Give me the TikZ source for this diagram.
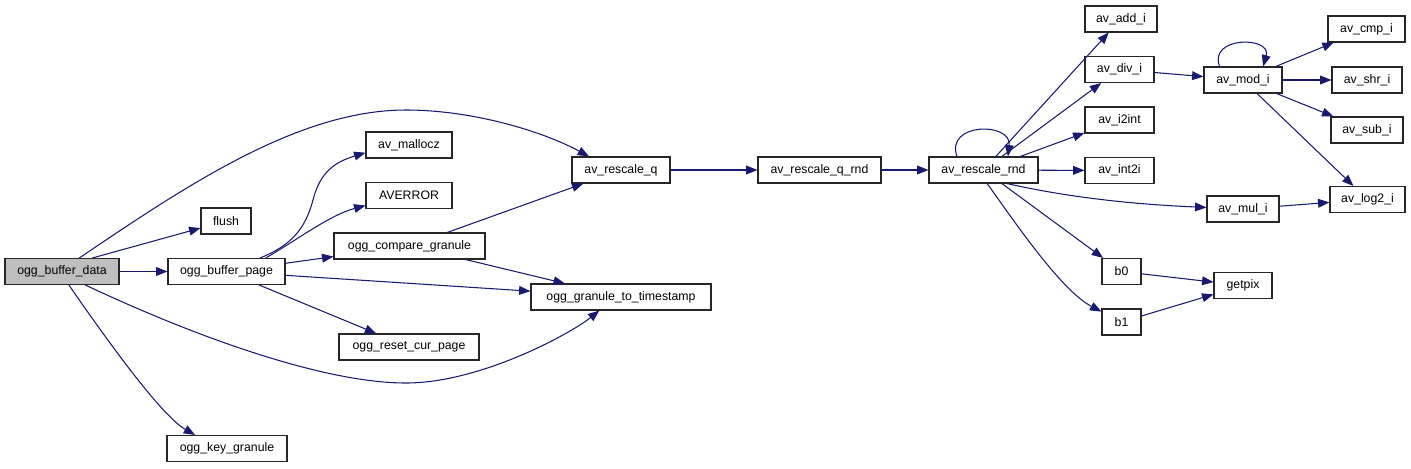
\documentclass[tikz,border=0pt]{standalone}
\usepackage{fontspec}
\setmainfont{Liberation Sans}
\usetikzlibrary{arrows.meta}
\definecolor{edgeblue}{HTML}{191970}
\definecolor{boxgray}{HTML}{BFBFBF}
\begin{document}
\begin{tikzpicture}[
    x=0.02cm, y=-0.02cm,
    box/.style={draw=black!85, line width=0.6pt, fill=white, minimum height=0.52cm, inner sep=0pt, font=\fontsize{7}{8}\selectfont},
    arr/.style={-{Triangle[length=6.5pt,width=5pt]}, draw=edgeblue, line width=0.6pt},
]
\useasboundingbox (0,0) rectangle (1411,468);

\node[box, fill=boxgray, minimum width=2.28cm] (odata) at (62,271.5) {ogg\_buffer\_data};
\node[box, minimum width=2.34cm] (opage) at (226.5,271.5) {ogg\_buffer\_page};
\node[box, minimum width=1.0cm] (flush) at (226,221) {flush};
\node[box, minimum width=2.4cm] (keygran) at (227,448.5) {ogg\_key\_granule};

\node[box, minimum width=1.72cm] (mallocz) at (409,145) {av\_mallocz};
\node[box, minimum width=1.72cm] (averror) at (409,195.5) {AVERROR};
\node[box, minimum width=3.02cm] (compare) at (409.5,246) {ogg\_compare\_granule};
\node[box, minimum width=2.8cm] (reset) at (409,347) {ogg\_reset\_cur\_page};

\node[box, minimum width=1.96cm] (rq) at (621,170) {av\_rescale\_q};
\node[box, minimum width=3.6cm] (g2ts) at (621,297) {ogg\_granule\_to\_timestamp};
\node[box, minimum width=2.46cm] (rqrnd) at (819.5,170) {av\_rescale\_q\_rnd};
\node[box, minimum width=2.18cm] (rrnd) at (983.5,170) {av\_rescale\_rnd};

\node[box, minimum width=1.44cm] (addi) at (1121,19) {av\_add\_i};
\node[box, minimum width=1.38cm] (divi) at (1119.5,69.5) {av\_div\_i};
\node[box, minimum width=1.38cm] (i2int) at (1119.5,120) {av\_i2int};
\node[box, minimum width=1.38cm] (int2i) at (1119.5,170.5) {av\_int2i};
\node[box, minimum width=0.78cm] (bzero) at (1121.5,271.5) {b0};
\node[box, minimum width=0.78cm] (bone) at (1121.5,322) {b1};

\node[box, minimum width=1.56cm] (modi) at (1243,80) {av\_mod\_i};
\node[box, minimum width=1.44cm] (muli) at (1243,209) {av\_mul\_i};
\node[box, minimum width=1.16cm] (getpix) at (1243,285.5) {getpix};

\node[box, minimum width=1.54cm] (cmpi) at (1366.5,29) {av\_cmp\_i};
\node[box, minimum width=1.4cm] (shri) at (1367,80) {av\_shr\_i};
\node[box, minimum width=1.44cm] (subi) at (1367,130) {av\_sub\_i};
\node[box, minimum width=1.5cm] (log2i) at (1367.5,199.5) {av\_log2\_i};

% calls from ogg_buffer_data
\draw[arr] (odata) -- (opage);
\draw[arr] (odata.24) -- (flush);
\draw[arr] (odata.38) .. controls (190,183) and (300,110) .. (406,110)
    .. controls (470,110) and (540,130) .. (rq.157);
\draw[arr] (odata.330) .. controls (187,333) and (320,383) .. (406,383)
    .. controls (480,383) and (570,334) .. (g2ts.212);
\draw[arr] (odata.297) .. controls (100,330) and (160,415) .. (keygran.157);

% calls from ogg_buffer_page
\draw[arr] (opage.22) .. controls (290,246) and (305,230) .. (313,200)
    .. controls (320,172) and (335,162) .. (mallocz.190);
\draw[arr] (opage.19) .. controls (300,238) and (330,215) .. (averror.193);
\draw[arr] (opage) -- (compare);
\draw[arr] (opage) -- (g2ts);
\draw[arr] (opage) -- (reset);
\draw[arr] (compare) -- (rq);
\draw[arr] (compare) -- (g2ts);

\draw[arr] (rq) -- (rqrnd);
\draw[arr] (rqrnd) -- (rrnd);

% av_rescale_rnd and the integer helpers
\draw[arr] (rrnd.153) .. controls (945,122) and (1012,122) .. (rrnd.29);
\draw[arr] (rrnd) -- (addi);
\draw[arr] (rrnd) -- (divi);
\draw[arr] (rrnd) -- (i2int);
\draw[arr] (rrnd) -- (int2i);
\draw[arr] (rrnd.330) .. controls (1080,200) and (1150,205) .. (muli);
\draw[arr] (rrnd) -- (bzero);
\draw[arr] (rrnd.285) .. controls (1010,215) and (1060,290) .. (bone);
\draw[arr] (bzero) -- (getpix);
\draw[arr] (bone) -- (getpix);

\draw[arr] (divi) -- (modi);
\draw[arr] (modi.150) .. controls (1208,36) and (1272,36) .. (modi.34);
\draw[arr] (modi) -- (cmpi);
\draw[arr] (modi) -- (shri);
\draw[arr] (modi) -- (subi);
\draw[arr] (modi) -- (log2i);
\draw[arr] (muli) -- (log2i);

\end{tikzpicture}
\end{document}
